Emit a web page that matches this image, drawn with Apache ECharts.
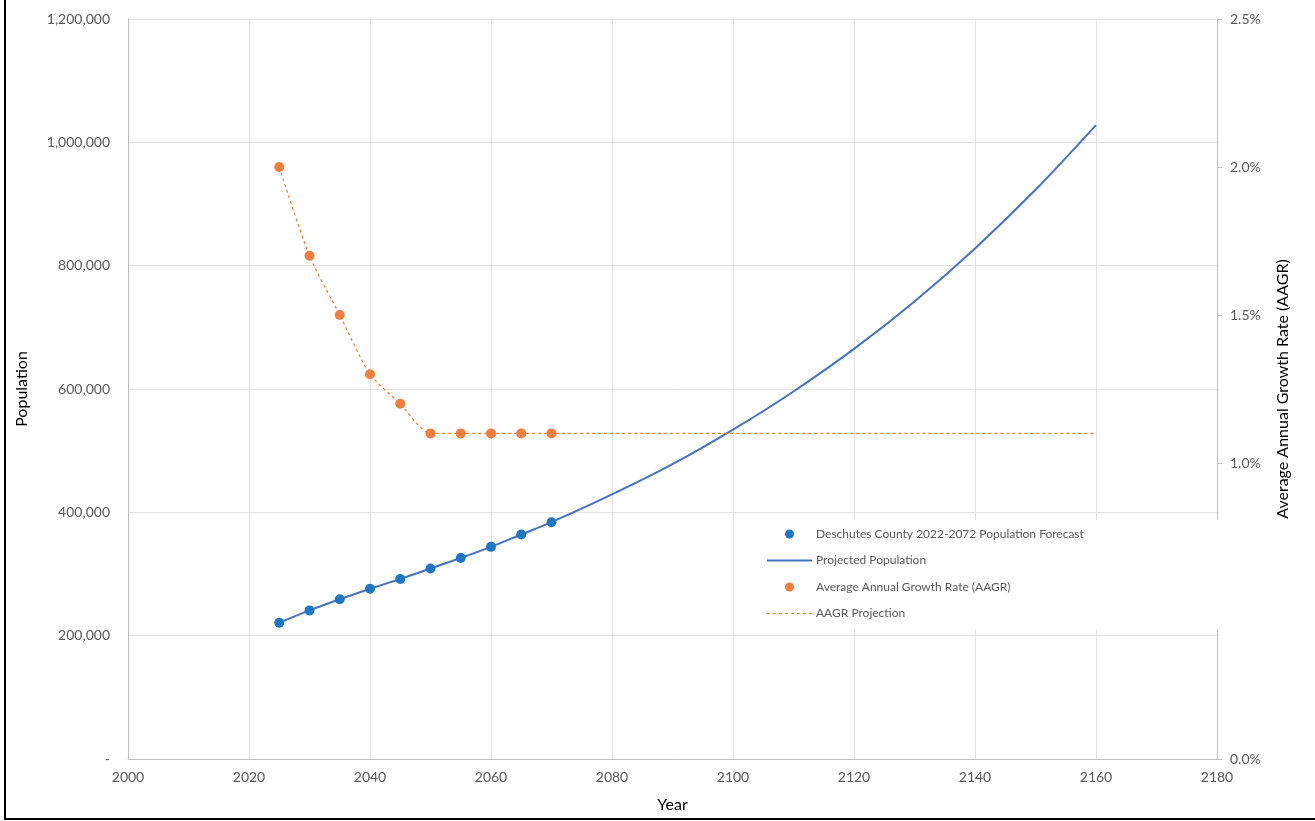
<!DOCTYPE html>
<html>
<head>
<meta charset="utf-8">
<script src="https://cdn.jsdelivr.net/npm/echarts@6/dist/echarts.min.js"></script>
<style>
html,body{margin:0;padding:0;background:#fff;}
#c{width:1315px;height:821px;}
</style>
</head>
<body>
<div id="c"></div>
<script>
// Data
var forecastYears = [2025, 2030, 2035, 2040, 2045, 2050, 2055, 2060, 2065, 2070];
var forecastPop = [221000, 241000, 259000, 276000, 292000, 309000, 326000, 344000, 364000, 384000];
var projYears = [2025, 2030, 2035, 2040, 2045, 2050, 2055, 2060, 2065, 2070, 2080, 2090, 2100, 2110, 2120, 2130, 2140, 2150, 2160];
var projPop = [221000, 241000, 259000, 276000, 292000, 309000, 326000, 344000, 364000, 384000, 429000, 478000, 534000, 596000, 665000, 742000, 828000, 923000, 1028000];
var aagrYears = [2025, 2030, 2035, 2040, 2045, 2050, 2055, 2060, 2065, 2070];
var aagr = [2.0, 1.7, 1.5, 1.3, 1.2, 1.1, 1.1, 1.1, 1.1, 1.1];
var aagrProjYears = [2025, 2030, 2035, 2040, 2045, 2050, 2055, 2060, 2065, 2070, 2160];
var aagrProj = [2.0, 1.7, 1.5, 1.3, 1.2, 1.1, 1.1, 1.1, 1.1, 1.1, 1.1];

function pairs(xs, ys){ return xs.map(function(x,i){ return [x, ys[i]]; }); }

var FONT = 'Lato';
var chart = echarts.init(document.getElementById('c'));
chart.setOption({
  backgroundColor: '#fff',
  animation: false,
  textStyle: {fontFamily: FONT},
  grid: {left: 128, right: 98, top: 19, bottom: 62, containLabel: false},
  legend: {
    orient: 'vertical',
    left: 760, top: 520,
    width: 455,
    backgroundColor: '#fff',
    padding: [8, 200, 10, 6],
    itemWidth: 45, itemHeight: 9,
    itemGap: 14.5,
    textStyle: {fontFamily: FONT, fontSize: 12, color: '#595959', padding: [0,0,0,-1]},
    data: [
      {name: 'Deschutes County 2022-2072 Population Forecast', icon: 'circle'},
      {name: 'Projected Population', itemStyle: {opacity: 0}, lineStyle: {color: '#4472c4', width: 2}},
      {name: 'Average Annual Growth Rate (AAGR)', icon: 'circle'},
      {name: 'AAGR Projection', itemStyle: {opacity: 0}, lineStyle: {color: '#ed7d31', width: 1.2, type: [3, 3]}}
    ]
  },
  xAxis: {
    type: 'value', min: 2000, max: 2180, interval: 20,
    name: 'Year', nameLocation: 'middle', nameGap: 38,
    nameTextStyle: {fontFamily: FONT, fontSize: 16, color: '#000'},
    axisLine: {show: true, lineStyle: {color: '#bfbfbf'}},
    axisTick: {show: false},
    axisLabel: {fontFamily: FONT, fontSize: 14, color: '#595959', margin: 11,
      formatter: function(v){ return String(v); }},
    splitLine: {show: true, lineStyle: {color: '#e3e3e3'}}
  },
  yAxis: [
    {
      type: 'value', min: 0, max: 1200000, interval: 200000,
      name: 'Population', nameLocation: 'middle', nameGap: 98, nameRotate: 90,
      nameTextStyle: {fontFamily: FONT, fontSize: 16, color: '#000'},
      axisLine: {show: true, lineStyle: {color: '#bfbfbf'}},
      axisTick: {show: false},
      axisLabel: {fontFamily: FONT, fontSize: 14, color: '#595959', margin: 18,
        formatter: function(v){ return v === 0 ? '-' : v.toLocaleString('en-US'); }},
      splitLine: {show: true, lineStyle: {color: '#e3e3e3'}}
    },
    {
      type: 'value', min: 0, max: 2.5, interval: 0.5, position: 'right',
      name: 'Average Annual Growth Rate (AAGR)', nameLocation: 'middle', nameGap: 58, nameRotate: 90,
      nameTextStyle: {fontFamily: FONT, fontSize: 16, color: '#000'},
      axisLine: {show: true, lineStyle: {color: '#bfbfbf'}},
      axisTick: {show: true, inside: false, length: 5, lineStyle: {color: '#bfbfbf'}},
      axisLabel: {fontFamily: FONT, fontSize: 14, color: '#595959', margin: 13,
        formatter: function(v){ return v.toFixed(1) + '%'; }},
      splitLine: {show: false}
    }
  ],
  series: [
    {
      name: 'Projected Population', type: 'line', yAxisIndex: 0,
      data: pairs(projYears, projPop), smooth: 0.3, showSymbol: false, symbol: 'none',
      lineStyle: {color: '#4472c4', width: 2}, itemStyle: {color: '#4472c4'}, z: 2
    },
    {
      name: 'AAGR Projection', type: 'line', yAxisIndex: 1,
      data: pairs(aagrProjYears, aagrProj), smooth: 0.25, showSymbol: false, symbol: 'none',
      lineStyle: {color: '#ed7d31', width: 1.2, type: [3, 3]}, itemStyle: {color: '#ed7d31'}, z: 2
    },
    {
      name: 'Deschutes County 2022-2072 Population Forecast', type: 'scatter', yAxisIndex: 0,
      data: pairs(forecastYears, forecastPop), symbol: 'circle', symbolSize: 10,
      itemStyle: {color: '#1f77c4', opacity: 1}, z: 3
    },
    {
      name: 'Average Annual Growth Rate (AAGR)', type: 'scatter', yAxisIndex: 1,
      data: pairs(aagrYears, aagr), symbol: 'circle', symbolSize: 10,
      itemStyle: {color: '#f47e3e', opacity: 1}, z: 3
    }
  ],
  graphic: [
    {type: 'line', shape: {x1: 5, y1: 0, x2: 5, y2: 819}, style: {stroke: '#000', lineWidth: 2}, silent: true},
    {type: 'line', shape: {x1: 4, y1: 819, x2: 1315, y2: 819}, style: {stroke: '#000', lineWidth: 2}, silent: true}
  ]
});
</script>
</body>
</html>
